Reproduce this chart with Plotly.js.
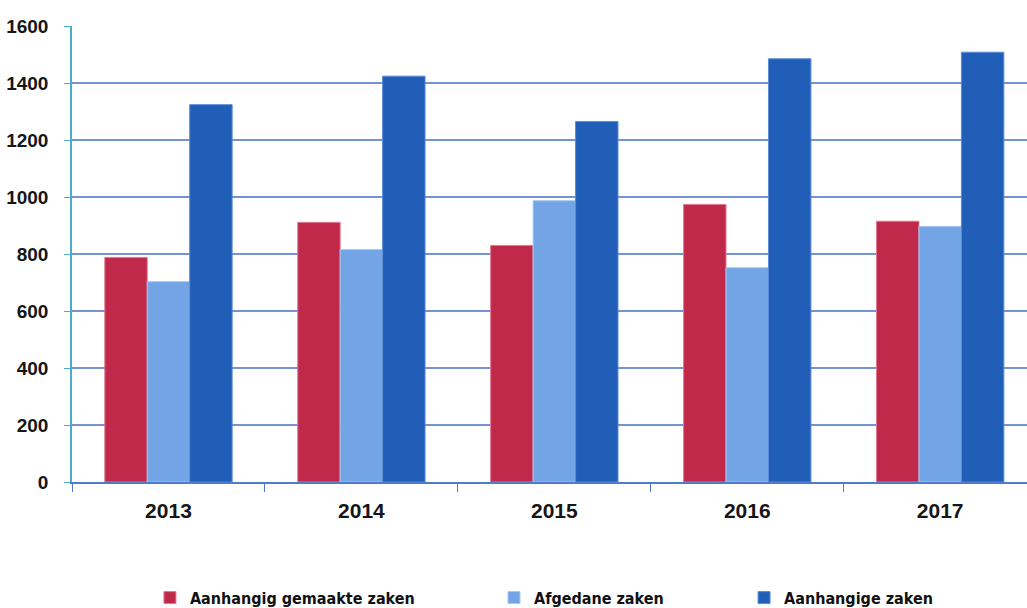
<!DOCTYPE html>
<html>
<head>
<meta charset="utf-8">
<script src="https://cdn.plot.ly/plotly-3.0.1.min.js"></script>
<style>html,body{margin:0;padding:0;background:#fff;}#chart{width:1027px;height:608px;}</style>
</head>
<body>
<div id="chart"></div>
<script>
const years = ["2013", "2014", "2015", "2016", "2017"];
const aanhangigGemaakt = [788, 911, 830, 974, 915];
const afgedaan = [703, 816, 987, 752, 897];
const aanhangig = [1324, 1424, 1265, 1485, 1508];
const seriesNames = ["Aanhangig gemaakte zaken", "Afgedane zaken", "Aanhangige zaken"];
const yTicks = [0, 200, 400, 600, 800, 1000, 1200, 1400, 1600];

const colors = ["#C0294A", "#72A4E6", "#215EB8"];
const lineColors = ["#E07A90", "#A9C8F0", "#5B8BD6"];
const legendIds = ["legend", "legend2", "legend3"];
const data = [aanhangigGemaakt, afgedaan, aanhangig].map((vals, i) => ({
  type: "bar",
  x: years,
  y: vals,
  name: seriesNames[i],
  legend: legendIds[i],
  marker: {color: colors[i], line: {color: lineColors[i], width: 1}},
  hoverinfo: "x+y+name"
}));

const legFont = {family: "DejaVu Sans Condensed, Liberation Sans, sans-serif", size: 16, weight: "bold", color: "#111"};
const legBase = {orientation: "h", yref: "container", xref: "container", yanchor: "middle", xanchor: "left", font: legFont, bgcolor: "rgba(0,0,0,0)", itemwidth: 30, tracegroupgap: 0};

const layout = {
  width: 1027, height: 608,
  margin: {l: 72, r: 0, t: 26, b: 126, autoexpand: false},
  paper_bgcolor: "#fff", plot_bgcolor: "#fff",
  barmode: "group",
  bargap: 0.34, bargroupgap: 0,
  font: {family: "Liberation Sans", color: "#111"},
  xaxis: {
    type: "category",
    range: [-0.5, 4.45],
    showgrid: false,
    showline: true, linecolor: "#4F7CC9", linewidth: 1.5,
    ticks: "outside", tickson: "boundaries", ticklen: 8, tickcolor: "#4F7CC9",
    tickfont: {family: "Liberation Sans", size: 21, weight: "bold", color: "#161616"},
    ticklabelstandoff: 9,
    zeroline: false, fixedrange: true
  },
  yaxis: {
    range: [0, 1600],
    tickvals: yTicks,
    ticktext: yTicks.map(String),
    showgrid: true, gridcolor: "#7393D4", gridwidth: 1.5,
    showline: true, linecolor: "#4BACC6", linewidth: 1.5,
    ticks: "outside", ticklen: 6, tickcolor: "#4BACC6",
    tickfont: {family: "Liberation Sans", size: 19, weight: "bold", color: "#161616"},
    ticklabelstandoff: 12,
    zeroline: false, fixedrange: true
  },
  legend: Object.assign({}, legBase, {x: 0.146, y: 0.017}),
  legend2: Object.assign({}, legBase, {x: 0.481, y: 0.017}),
  legend3: Object.assign({}, legBase, {x: 0.7245, y: 0.017}),
  showlegend: true
};

Plotly.newPlot("chart", data, layout, {displayModeBar: false});
</script>
</body>
</html>
